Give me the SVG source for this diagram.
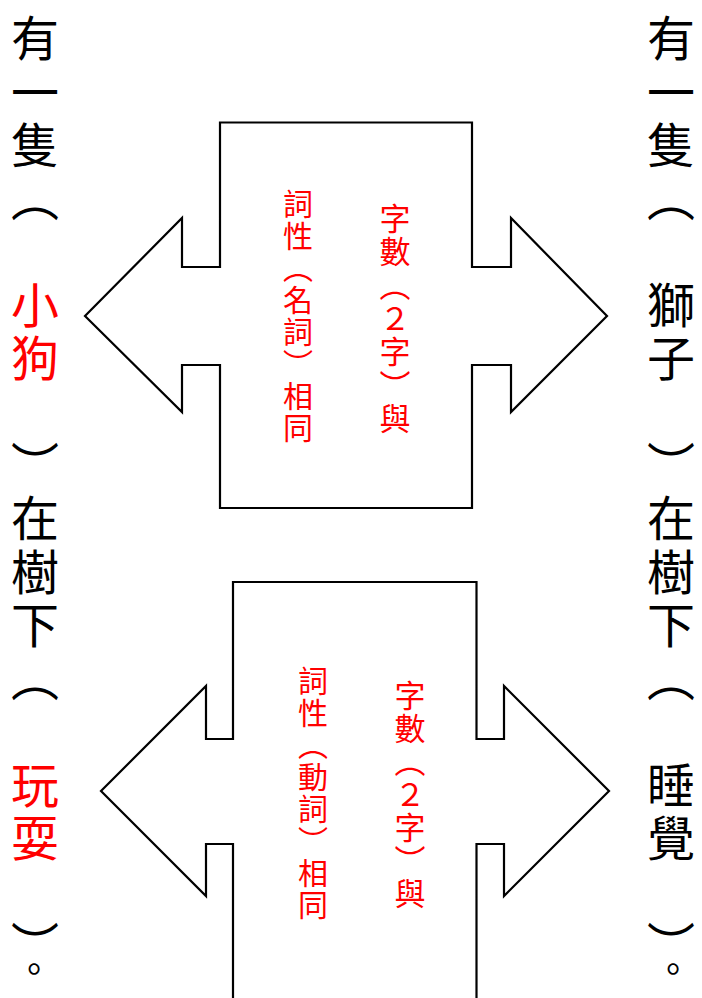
<svg xmlns="http://www.w3.org/2000/svg" width="702" height="998" viewBox="0 0 702 998">
<style>
.bg{fill:#ffffff}
.shape{fill:#ffffff;stroke:#000000;stroke-width:2.2;stroke-linejoin:miter}
.t{font-family:"Noto Sans CJK TC","Noto Sans CJK SC",sans-serif;text-anchor:middle}
.outer{font-size:48px;fill:#000000}
.red{fill:#ff0000}
.mid{font-size:30px;fill:#ff0000}
.mid2{font-size:31px;fill:#ff0000}
.dot{font-size:36px}
</style>
<rect class="bg" x="0" y="0" width="702" height="998"/>
<g id="connectors"></g>
<g id="arrow1">
<polygon class="shape" points="220,122.5 472,122.5 472,267 511,267 511,218 607,316 511,412 511,365 472,365 472,508 220,508 220,365 182,365 182,412 85,316 182,218 182,267 220,267"/>
<text class="t mid2" x="395 395 395 395 395 395 395" y="229.8 263.1 296.5 329.8 363.1 396.5 429.8">字數︵２字︶與</text>
<text class="t mid" x="298 298 298 298 298 298 298 298" y="215.4 247.4 279.4 311.4 343.4 375.4 407.4 439.4">詞性︵名詞︶相同</text>
</g>
<g id="arrow2">
<polygon class="shape" points="233,582 476.5,582 476.5,739 504,739 504,686 609,791 504,896 504,844 476.5,844 476.5,1010 233,1010 233,844 206,844 206,896 101,791 206,686 206,739 233,739"/>
<text class="t mid2" x="410 410 410 410 410 410 410" y="706.8 739.8 772.8 805.8 838.8 871.8 904.8">字數︵２字︶與</text>
<text class="t mid" x="313 313 313 313 313 313 313 313" y="692.4 724.4 756.4 788.4 820.4 852.4 884.4 916.4">詞性︵動詞︶相同</text>
</g>
<g id="left-sentence">
<text class="t outer" x="35 35 35 35" y="56.2 109.5 162.9 216.2">有一隻︵</text>
<text class="t outer red" x="35 35" y="322.9 376.2">小狗</text>
<text class="t outer" x="35 35 35 35 35" y="482.9 536.2 589.5 642.9 696.2">︶在樹下︵</text>
<text class="t outer red" x="35 35" y="802.9 856.2">玩耍</text>
<text class="t outer" x="35" y="962.9">︶<tspan class="dot" x="34" y="982.5">。</tspan></text>
</g>
<g id="right-sentence">
<text class="t outer" x="671 671 671 671" y="56.2 109.5 162.9 216.2">有一隻︵</text>
<text class="t outer" x="671 671" y="322.9 376.2">獅子</text>
<text class="t outer" x="671 671 671 671 671" y="482.9 536.2 589.5 642.9 696.2">︶在樹下︵</text>
<text class="t outer" x="671 671" y="802.9 856.2">睡覺</text>
<text class="t outer" x="671" y="962.9">︶<tspan class="dot" x="673" y="982.5">。</tspan></text>
</g>
</svg>
